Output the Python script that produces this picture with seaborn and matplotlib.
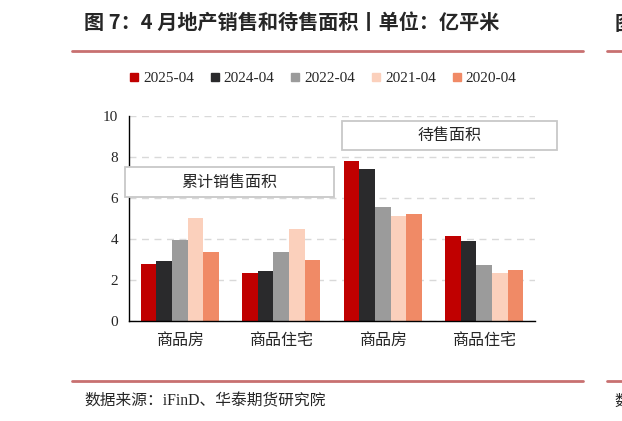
import pandas as pd
import seaborn as sns
import matplotlib.pyplot as plt
from matplotlib.patches import Rectangle

# data (亿平米)
groups = ["销售-商品房", "销售-商品住宅", "待售-商品房", "待售-商品住宅"]
group_labels = ["商品房", "商品住宅", "商品房", "商品住宅"]
years = ["2025-04", "2024-04", "2022-04", "2021-04", "2020-04"]
v_2025 = [2.80, 2.36, 7.79, 4.15]
v_2024 = [2.91, 2.42, 7.43, 3.89]
v_2022 = [3.95, 3.35, 5.55, 2.72]
v_2021 = [5.01, 4.51, 5.12, 2.36]
v_2020 = [3.39, 2.96, 5.20, 2.48]
colors = ["#C00000", "#2A2A2C", "#9B9B9B", "#FBD0BC", "#F08A66"]

rows = []
for year, vals in zip(years, [v_2025, v_2024, v_2022, v_2021, v_2020]):
    for g, v in zip(groups, vals):
        rows.append({"group": g, "year": year, "value": v})
df = pd.DataFrame(rows)

sns.set_style("white")
cjk = ["Noto Sans CJK SC", "DejaVu Sans"]
serif = ["Liberation Serif", "Noto Sans CJK SC"]
plt.rcParams["font.family"] = cjk

fig = plt.figure(figsize=(6.22, 4.21), dpi=100)
ax = fig.add_axes([129 / 622, 1 - 321 / 421, 406 / 622, 205 / 421])

sns.barplot(data=df, x="group", y="value", hue="year", order=groups,
            hue_order=years, palette=colors, width=0.77, saturation=1,
            linewidth=0, ax=ax, legend=False)

ax.set_ylim(0, 10)
ax.set_xlim(-0.5, 3.5)
ax.set_yticks([0, 2, 4, 6, 8, 10])
ax.set_yticklabels(["0", "2", "4", "6", "8", "10"], family=serif, fontsize=11)
ax.yaxis.grid(True, linestyle=(0, (5, 4)), color="#d9d9d9", linewidth=1)
ax.set_axisbelow(True)

# group boundaries as ticks, labels in the middle
ax.set_xticks([-0.5, 0.5, 1.5, 2.5, 3.5])
ax.set_xticklabels([])
ax.set_xticks([0, 1, 2, 3], minor=True)
ax.set_xticklabels(group_labels, minor=True, fontsize=11.5)
ax.tick_params(axis="x", which="major", direction="out", length=4, width=1, color="black")
ax.tick_params(axis="x", which="minor", length=0, pad=8)
ax.tick_params(axis="y", direction="out", length=4, width=1, color="black", pad=4)
ax.set_xlabel("")
ax.set_ylabel("")
for s in ["top", "right"]:
    ax.spines[s].set_visible(False)
for s in ["left", "bottom"]:
    ax.spines[s].set_color("black")
    ax.spines[s].set_linewidth(1)

# section boxes
for x0, x1, y0, y1, label in [(-0.54, 1.52, 6.03, 7.5, "累计销售面积"),
                              (1.595, 3.72, 8.33, 9.74, "待售面积")]:
    ax.add_patch(Rectangle((x0, y0), x1 - x0, y1 - y0, facecolor="white",
                           edgecolor="#c8c8c8", linewidth=1.3, clip_on=False, zorder=5))
    ax.text((x0 + x1) / 2, (y0 + y1) / 2, label, ha="center", va="center",
            fontsize=11.5, zorder=6, clip_on=False)

# legend
handles = [plt.Line2D([], [], marker="s", linestyle="", markersize=6,
                      markerfacecolor=c, markeredgecolor=c) for c in colors]
fig.legend(handles, years, loc="center", bbox_to_anchor=(323 / 622, 1 - 78 / 421),
           ncol=5, frameon=False, prop={"family": serif, "size": 11},
           handlelength=0.6, handletextpad=0.3, columnspacing=1.05)

# title, rules and source
fig.text(84 / 622, 1 - 22 / 421, "图 7：4 月地产销售和待售面积丨单位：亿平米",
         fontsize=14.5, fontweight="bold", va="center", ha="left")
fig.text(615 / 622, 1 - 24 / 421, "图", fontsize=14.5, fontweight="bold", va="center", ha="left")
for y in [51, 381]:
    fig.add_artist(plt.Line2D([72 / 622, 583 / 622], [1 - y / 421] * 2,
                              color="#C87070", linewidth=2))
    fig.add_artist(plt.Line2D([607 / 622, 1], [1 - y / 421] * 2,
                              color="#C87070", linewidth=2))
fig.text(84 / 622, 1 - 401 / 421, "数据来源：iFinD、华泰期货研究院", fontsize=11.3,
         va="center", ha="left", family=serif)
fig.text(614 / 622, 1 - 401 / 421, "数", fontsize=11, va="center", ha="left")

fig.savefig("out.png", dpi=100)
